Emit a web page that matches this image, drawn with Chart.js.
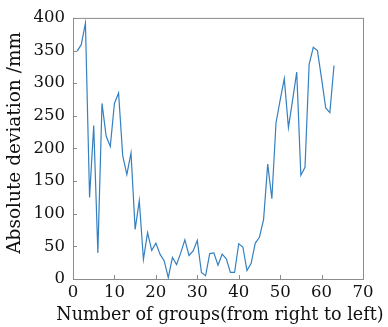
<!DOCTYPE html>
<html>
<head>
  <meta charset="utf-8">
  <script src="https://cdn.jsdelivr.net/npm/chart.js"></script>
  <style>
    html, body { margin: 0; padding: 0; background: #fff; }
    .chart-box { position: relative; width: 388px; height: 327px; }
  </style>
</head>
<body>
  <div class="chart-box">
    <canvas id="devChart"></canvas>
  </div>
<script>
"use strict";
// group number (1..63) and absolute deviation in mm
const groups = [];
for (let i = 1; i <= 63; i++) groups.push(i);
const deviation = [
  349, 359, 392, 125, 235, 40, 269, 219, 203, 269,
  285, 189, 160, 193, 76, 120, 30, 71, 44, 55,
  38, 28, 2, 33, 22, 40, 60, 36, 43, 59,
  10, 5, 39, 40, 21, 38, 31, 10, 10, 54,
  49, 13, 24, 55, 64, 91, 176, 123, 239, 274,
  307, 232, 274, 317, 159, 171, 329, 355, 350, 307,
  262, 255, 327
];
const xTicks = [0, 10, 20, 30, 40, 50, 60, 70];
const yTicks = [0, 50, 100, 150, 200, 250, 300, 350, 400];
const xTitle = 'Number of groups(from right to left)';
const yTitle = 'Absolute deviation /mm';

const points = groups.map((g, i) => ({ x: g, y: deviation[i] }));
const serif = "'DejaVu Serif', serif";
const tickFont = { family: serif, size: 16.5 };

// frame, short inward ticks and the axis titles (x title is wider than the plot)
const frameAndTicks = {
  id: 'frameAndTicks',
  afterDraw(chart) {
    const { ctx, chartArea: a, scales } = chart;
    ctx.save();
    ctx.strokeStyle = '#8c8c8c';
    ctx.lineWidth = 1;
    ctx.strokeRect(a.left + 0.5, a.top + 0.5, a.right - a.left, a.bottom - a.top);
    ctx.beginPath();
    xTicks.forEach(v => {
      const px = Math.round(scales.x.getPixelForValue(v)) + 0.5;
      ctx.moveTo(px, a.bottom);
      ctx.lineTo(px, a.bottom - 4);
    });
    yTicks.forEach(v => {
      const py = Math.round(scales.y.getPixelForValue(v)) + 0.5;
      ctx.moveTo(a.left, py);
      ctx.lineTo(a.left + 4, py);
    });
    ctx.stroke();

    ctx.fillStyle = '#111';
    ctx.textAlign = 'center';
    ctx.textBaseline = 'middle';
    ctx.font = '17.6px ' + serif;
    ctx.fillText(xTitle, 220, 315);
    ctx.translate(15, a.top + 125);
    ctx.rotate(-Math.PI / 2);
    ctx.font = '18.5px ' + serif;
    ctx.fillText(yTitle, 0, 0);
    ctx.restore();
  }
};

new Chart(document.getElementById('devChart'), {
  type: 'line',
  data: {
    datasets: [{
      data: points,
      borderColor: '#3580c0',
      borderWidth: 1.2,
      pointRadius: 0,
      tension: 0,
      fill: false
    }]
  },
  options: {
    responsive: true,
    maintainAspectRatio: false,
    animation: false,
    plugins: { legend: { display: false }, tooltip: { enabled: false } },
    layout: { padding: { top: 13, right: 25, left: 0, bottom: 0 } },
    scales: {
      x: {
        type: 'linear',
        min: 0, max: 70,
        afterFit(scale) { scale.height = 48; },
        afterBuildTicks(scale) { scale.ticks = xTicks.map(v => ({ value: v })); },
        grid: { display: false, drawTicks: false },
        border: { display: false },
        ticks: { color: '#111', font: tickFont, padding: 4, maxRotation: 0 }
      },
      y: {
        min: 0, max: 400,
        afterFit(scale) { scale.width = 73; },
        afterBuildTicks(scale) { scale.ticks = yTicks.map(v => ({ value: v })); },
        grid: { display: false, drawTicks: false },
        border: { display: false },
        ticks: { color: '#111', font: tickFont, padding: 8 }
      }
    }
  },
  plugins: [frameAndTicks]
});
</script>
</body>
</html>
